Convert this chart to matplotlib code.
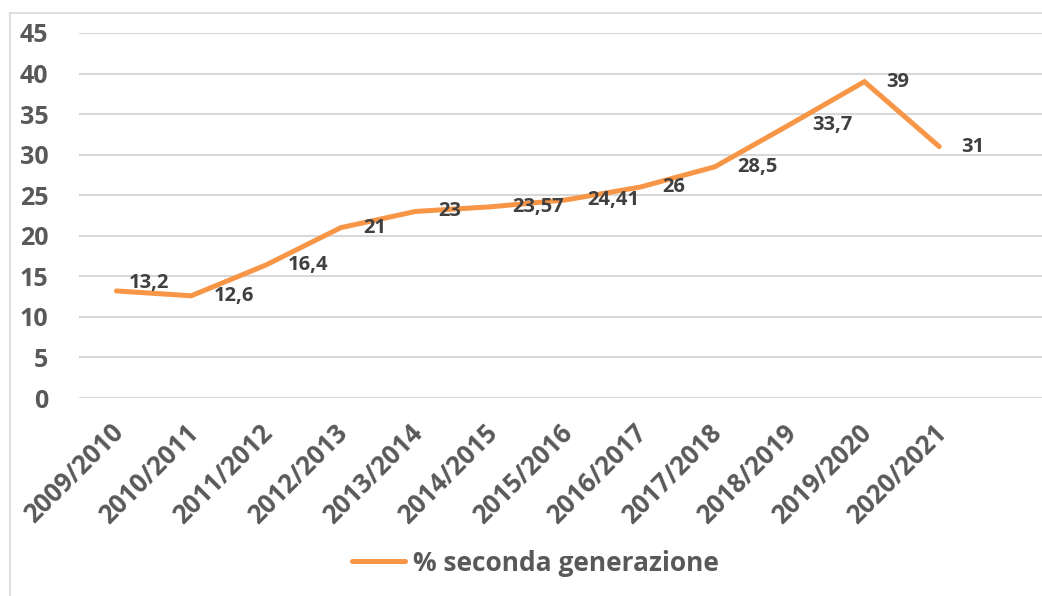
import matplotlib
matplotlib.use("Agg")
import matplotlib.pyplot as plt
from matplotlib.transforms import ScaledTranslation
from matplotlib.lines import Line2D

categories = ["2009/2010", "2010/2011", "2011/2012", "2012/2013", "2013/2014",
              "2014/2015", "2015/2016", "2016/2017", "2017/2018", "2018/2019",
              "2019/2020", "2020/2021"]
values = [13.2, 12.6, 16.4, 21, 23, 23.57, 24.41, 26, 28.5, 33.7, 39, 31]
value_labels = ["13,2", "12,6", "16,4", "21", "23", "23,57", "24,41", "26",
                "28,5", "33,7", "39", "31"]
yticks = [0, 5, 10, 15, 20, 25, 30, 35, 40, 45]
series_name = "% seconda generazione"

plt.rcParams['font.family'] = ['Open Sans', 'DejaVu Sans']
plt.rcParams['font.weight'] = 'bold'

W, H = 1042, 596
fig = plt.figure(figsize=(W / 100, H / 100), dpi=100)

LINE = "#F79646"
TICK = "#595959"
LABEL = "#404040"
GRID = "#D9D9D9"

# chart area border (cropped on right/bottom)
fig.add_artist(Line2D([10 / W, 10 / W], [0, 1 - 13 / H], transform=fig.transFigure,
                      color=GRID, lw=1.2))
fig.add_artist(Line2D([10 / W, 1], [1 - 13 / H, 1 - 13 / H], transform=fig.transFigure,
                      color=GRID, lw=1.2))

left = 79 / W
bottom = (H - 398) / H
top = (H - 33) / H
ax = fig.add_axes([left, bottom, 1 - left, top - bottom])

x = list(range(len(categories)))
step = 74.8
ax.set_xlim(-0.5, (W - 79) / step - 0.5)
ax.set_ylim(0, 45)

ax.plot(x, values, color=LINE, lw=3.6, solid_capstyle='round',
        solid_joinstyle='miter', zorder=3)

ax.set_yticks(yticks)
ax.yaxis.grid(True, color=GRID, lw=1.5)
ax.set_axisbelow(True)
for s in ax.spines.values():
    s.set_visible(False)
ax.tick_params(axis='y', length=0, pad=22, labelsize=18, labelcolor=TICK)
ax.tick_params(axis='x', length=0, pad=22, labelsize=18.5, labelcolor=TICK)
for t in ax.get_yticklabels():
    t.set_fontweight('bold')

ax.set_xticks(x)
ax.set_xticklabels(categories, rotation=45, ha='right', va='center',
                   rotation_mode='anchor', fontweight='bold')
offset = ScaledTranslation(3 / 100, 0, fig.dpi_scale_trans)
for t in ax.get_xticklabels():
    t.set_transform(t.get_transform() + offset)

for i, (xi, v, lab) in enumerate(zip(x, values, value_labels)):
    off = (9, 6) if i == 0 else (16, 0)
    ax.annotate(lab, (xi, v), xytext=off, textcoords='offset points',
                ha='left', va='center', fontsize=14.5, fontweight='bold',
                color=LABEL, zorder=4)

handle = Line2D([], [], color=LINE, lw=3.6, solid_capstyle='round')
fig.legend([handle], [series_name], loc='center', bbox_to_anchor=(0.514, 0.055),
           frameon=False, handlelength=2.0, handletextpad=0.3,
           prop={'size': 19, 'weight': 'bold'}, labelcolor=TICK)

fig.savefig("out.png", dpi=100)
